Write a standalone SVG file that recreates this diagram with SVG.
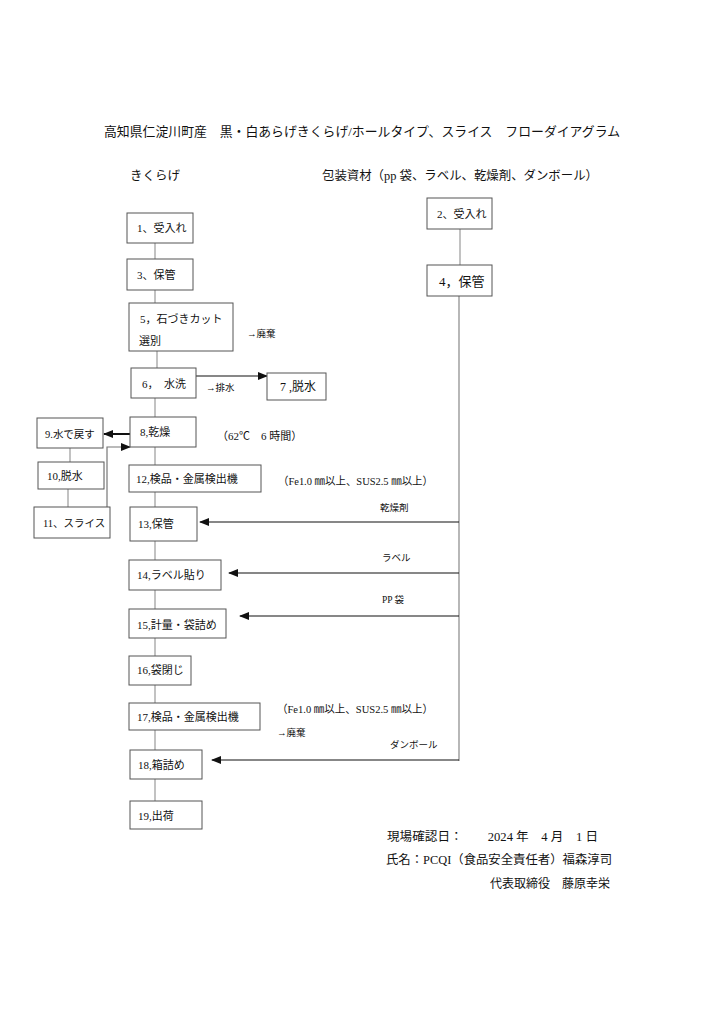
<svg xmlns="http://www.w3.org/2000/svg" width="724" height="1024" viewBox="0 0 724 1024">
<style>
text{font-family:"Liberation Serif","Noto Sans CJK JP",serif;fill:#111;}
.t{font-size:11px;}
.s{font-size:9.5px;}
.h{font-size:12.5px;}
.box{fill:#fff;stroke:#555;stroke-width:1;}
.ln{stroke:#999;stroke-width:1.2;fill:none;}
.ar{stroke:#111;stroke-width:1.2;fill:none;marker-end:url(#ah);}
</style>
<defs>
<marker id="ah" markerUnits="userSpaceOnUse" markerWidth="10" markerHeight="8" refX="9" refY="4" orient="auto">
<path d="M0,0 L10,4 L0,8 Z" fill="#111"/>
</marker>
</defs>
<rect width="724" height="1024" fill="#fff"/>
<text x="104" y="136" font-size="13" textLength="516" lengthAdjust="spacingAndGlyphs">高知県仁淀川町産　黒・白あらげきくらげ/ホールタイプ、スライス　フローダイアグラム</text>
<text class="h" x="130" y="180">きくらげ</text>
<text class="h" x="322" y="180" textLength="276" lengthAdjust="spacingAndGlyphs">包装資材（pp 袋、ラベル、乾燥剤、ダンボール）</text>

<g id="connectors">
<line class="ln" x1="155" y1="243" x2="155" y2="259"/>
<line class="ln" x1="155" y1="290" x2="155" y2="303"/>
<line class="ln" x1="157" y1="351" x2="157" y2="368"/>
<line class="ln" x1="155" y1="398" x2="155" y2="417"/>
<line class="ln" x1="155" y1="447" x2="155" y2="465"/>
<line class="ln" x1="155" y1="492" x2="155" y2="507"/>
<line class="ln" x1="155" y1="541" x2="155" y2="560"/>
<line class="ln" x1="155" y1="590" x2="155" y2="609"/>
<line class="ln" x1="155" y1="638" x2="155" y2="656"/>
<line class="ln" x1="155" y1="685" x2="155" y2="703"/>
<line class="ln" x1="155" y1="730" x2="155" y2="750"/>
<line class="ln" x1="155" y1="779" x2="155" y2="801"/>
<line class="ln" x1="70" y1="448" x2="70" y2="462"/>
<line class="ln" x1="68" y1="489" x2="68" y2="507"/>
<line class="ln" x1="460" y1="229" x2="460" y2="265"/>
<line class="ln" x1="459" y1="296" x2="459" y2="761" style="stroke:#888"/>
<line class="ar" x1="196" y1="376" x2="267" y2="376"/>
<line class="ar" x1="130" y1="434" x2="104" y2="434" style="stroke-width:2"/>
<polyline class="ar" points="107,507 107,447 130,447" style="stroke:#777"/>
<line class="ar" x1="459" y1="522" x2="200" y2="522"/>
<line class="ar" x1="459" y1="573" x2="229" y2="573"/>
<line class="ar" x1="459" y1="616" x2="240" y2="616"/>
<line class="ar" x1="459" y1="760" x2="212" y2="760"/>
</g>

<g id="n1"><rect class="box" x="127" y="213" width="66" height="30"/><text class="t" x="137" y="232">1、受入れ</text></g>
<g id="n3"><rect class="box" x="127" y="259" width="66" height="31"/><text class="t" x="137" y="279">3、保管</text></g>
<g id="n5"><rect class="box" x="129" y="303" width="104" height="48"/><text class="t" x="140" y="323">5，石づきカット</text><text class="t" x="139" y="345">選別</text></g>
<text class="s" x="247" y="337">→廃棄</text>
<g id="n6"><rect class="box" x="131" y="368" width="65" height="30"/><text class="t" x="142" y="388">6，　水洗</text></g>
<text class="s" x="206" y="391">→排水</text>
<g id="n7"><rect class="box" x="267" y="373" width="59" height="27"/><text x="280" y="391" font-size="12">7 ,脱水</text></g>
<g id="n8"><rect class="box" x="130" y="417" width="66" height="30"/><text class="t" x="140" y="436">8,乾燥</text></g>
<text class="t" x="217" y="440">（62℃　6 時間）</text>
<g id="n9"><rect class="box" x="37" y="418" width="66" height="30"/><text x="45" y="438" font-size="10.5">9.水で戻す</text></g>
<g id="n10"><rect class="box" x="38" y="462" width="66" height="27"/><text class="t" x="47" y="480">10,脱水</text></g>
<g id="n11"><rect class="box" x="34" y="507" width="76" height="31"/><text x="43" y="527" font-size="10.5">11、スライス</text></g>
<g id="n12"><rect class="box" x="129" y="465" width="132" height="27"/><text class="t" x="136" y="483">12,検品・金属検出機</text></g>
<text class="t" x="278" y="485" textLength="155" lengthAdjust="spacingAndGlyphs">（Fe1.0 ㎜以上、SUS2.5 ㎜以上）</text>
<g id="n13"><rect class="box" x="130" y="507" width="67" height="34"/><text class="t" x="138" y="528">13,保管</text></g>
<text class="s" x="380" y="511">乾燥剤</text>
<g id="n14"><rect class="box" x="129" y="560" width="92" height="30"/><text class="t" x="137" y="579">14,ラベル貼り</text></g>
<text class="s" x="382" y="561">ラベル</text>
<g id="n15"><rect class="box" x="129" y="609" width="97" height="29"/><text class="t" x="137" y="629">15,計量・袋詰め</text></g>
<text class="s" x="382" y="603">PP 袋</text>
<g id="n16"><rect class="box" x="129" y="656" width="62" height="29"/><text class="t" x="137" y="674">16,袋閉じ</text></g>
<g id="n17"><rect class="box" x="129" y="703" width="131" height="27"/><text class="t" x="137" y="721">17,検品・金属検出機</text></g>
<text class="t" x="277" y="713" textLength="156" lengthAdjust="spacingAndGlyphs">（Fe1.0 ㎜以上、SUS2.5 ㎜以上）</text>
<text class="s" x="277" y="736">→廃棄</text>
<text class="s" x="390" y="748">ダンボール</text>
<g id="n18"><rect class="box" x="130" y="750" width="72" height="29"/><text class="t" x="138" y="769">18,箱詰め</text></g>
<g id="n19"><rect class="box" x="130" y="801" width="72" height="28"/><text class="t" x="138" y="820">19,出荷</text></g>

<g id="n2"><rect class="box" x="427" y="198" width="65" height="31"/><text class="t" x="437" y="218">2、受入れ</text></g>
<g id="n4"><rect class="box" x="427" y="265" width="65" height="31"/><text x="439" y="286" font-size="13">4，保管</text></g>

<text x="387" y="841" font-size="12" textLength="211" lengthAdjust="spacingAndGlyphs">現場確認日：　　2024 年　4 月　1 日</text>
<text x="386" y="864" font-size="12" textLength="226" lengthAdjust="spacingAndGlyphs">氏名：PCQI（食品安全責任者）福森淳司</text>
<text x="490" y="888" font-size="12" textLength="120" lengthAdjust="spacingAndGlyphs">代表取締役　藤原幸栄</text>
</svg>
